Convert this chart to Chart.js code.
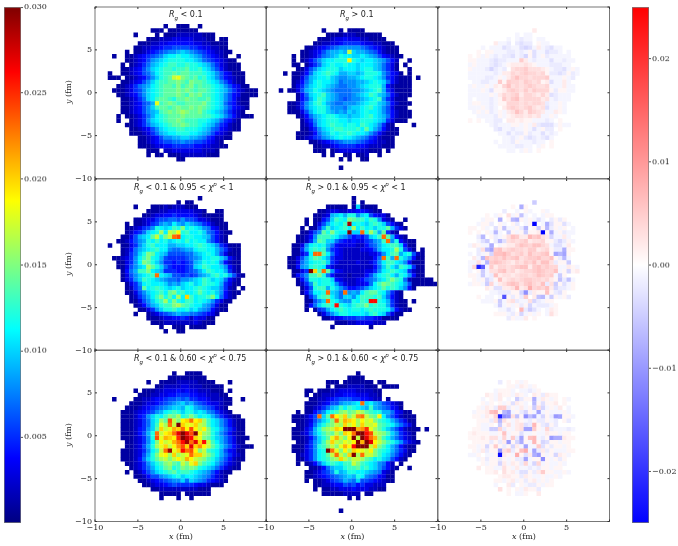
<!DOCTYPE html>
<html>
<head>
<meta charset="utf-8">
<script src="https://cdn.jsdelivr.net/npm/chart.js@4"></script>
<style>
  body { margin: 0; background: #fff; width: 678px; height: 546px; overflow: hidden; position: relative; }
  canvas { position: absolute; filter: blur(0.3px); }
  .txt { position: absolute; font: 8px "DejaVu Sans", sans-serif; color: #222; white-space: nowrap; z-index: 5; line-height: 10px; }
  .txt sub, .txt sup { font-size: 5.5px; line-height: 0; }
  .lab { font-family: "DejaVu Serif", serif; }
</style>
</head>
<body>
<script>
// rows run top to bottom (y = 10 to -10), 40 columns of 0.5 fm, '.' = empty, spaces only group columns by ten
// main panels: base 36 digit in units of 0.001
const rowsLowAll = [
'','','','',
'.......... ......1..1 11..1..... ..........',
'.......... ...111.111 1111...... ..........',
'.........1 ....1.1112 22222111.. ..........',
'.......... ..11122233 33322211.1 1.........',
'.......... 1112233444 4443322111 1.........',
'.........1 1223345566 6655433221 1.........',
'.......1.1 1234567889 a987654322 11........',
'....1..112 345678abbc bba9865432 1..1......',
'.......112 34689abccc cbba976543 211.......',
'......1.12 3579abcddc cdccba9753 2111......',
'......1123 468abcddcd deccdba864 2111......',
'...1..1123 4679bcdded eedddcba86 43111.....',
'...111.112 3468acdehi fedecdba86 43211.....',
'......1123 468acddeef edfeedcba8 64211.....',
'.....11235 789bcdeedf defdeddcba 864311....',
'....111235 68abcdeeef efedeedcba 97532111..',
'.....11234 68abcdeeef edfefddcba 86431111..',
'......1123 57abdeedce efeeddecba 864211....',
'......1123 4679idefed deeeefdcba 754211....',
'......1123 468adeedef eefefedcba 864321....',
'......1123 4689adefef gfeefdcba9 75321.....',
'.....1.112 3579bcdeee feeeeddcba 8642111...',
'.....1..12 358abcdeef edddccba97 5421......',
'.......112 3579abcdee feddcba975 4211......',
'........11 23468abccd dcccba9764 3211......',
'........11 123579abbc ccbba98643 21........',
'.......... 1123468899 aa99875422 11........',
'.......... 1123456677 8776654321 ..........',
'.......... 1112334455 5554433221 1.........',
'.......... ..111.2233 333332221. ..........',
'.......... ..1.11.111 222222111. ..........',
'.......... .........1 1......... ..........'
];
const rowsHighAll = [
'','','','','',
'.......... ...1...1.1 111....... ..........',
'.......... ....111122 2111111... ..........',
'.......... ..11123343 33221111.. ..........',
'.......... .112233455 5543322111 ..........',
'.........1 1234567888 8876543211 1.........',
'........11 2346899a9h a998764211 1.........',
'......1.11 235789acbb aaba986432 11........',
'......1.12 468abbcccj cbabba9864 2..1......',
'......11.1 357abcbbcb babbba9753 1.1.......',
'.......113 68abcccabb babcca9753 1..1......',
'....1.1124 7abcdcb99a a9acccb864 31.1......',
'......1136 9abbca9889 9abccba854 2111.1....',
'......1247 9bcbba9788 899abcba74 2111......',
'......1358 abcba98778 89abccc942 1111......',
'...1.11369 acba987777 889abcd953 1111......',
'.......147 abcda98777 89abdca974 2111......',
'.......146 9bdca98767 889abcd853 111.......',
'.....11258 acdb987788 89abcca974 2111......',
'.....11258 abcca88879 aabcdba863 111.......',
'.....11136 9bcca9898a 9abcbba864 2111......',
'.......124 79abccbaa9 aabcdba974 2111......',
'........13 58abcccbba bbcccba953 111.......',
'........12 47abcdccbc cbdcba8521 ....1.....',
'........11 358abcddcc cdbeb97421 1.........',
'.......111 2479acbccd cbba864211 1.........',
'.......112 35689abcbb a987542111 ..........',
'.......... 1123456788 8765432211 ..........',
'.......... .112234555 5443222111 ..........',
'.......... .111.12333 3322111.1. ..........',
'.......... ...1.1..11 .112..1... ..........',
'.......... .......1.1 ..11...... ..........',
'',
'.......... .......1'
];
const rowsLowHigh = [
'','','','',
'.......... .......... ....1..... ..........',
'.......... .........1 .11....... ..........',
'.........1 ...1112122 2111...... ..........',
'.......... ..11122333 333221..11 ..........',
'.......... .112334454 4443211111 ..........',
'.........1 1233566776 8665332111 ..........',
'.......1.1 12356898b9 8a98754211 1.........',
'.......112 3568cbabdc fbcba87431 1.........',
'.......124 57abcgbhgj cdbbca7642 11........',
'......1136 9abehcfhno bccbba9642 1.........',
'.....11246 89cbdbcabc bdbcbb8642 1.........',
'...1..1135 8acdbbb99a abbcdcba85 3111......',
'......1247 9abcdbb877 899bccbb97 5211......',
'......1257 acfeba9666 6779abcb96 3111......',
'....112358 bdfcb96555 56789bbcca 8421......',
'.....11358 bfeca85545 4569acbcb8 4211......',
'.....11368 abgeca7544 456abdcbba 8421......',
'......1479 ddfba95554 45679bdcbb 9521......',
'......1368 abcdnba966 565689acdb c9621.....',
'......1358 adcba98776 889abdcaba 7421......',
'.......135 8bcbbba898 abcabdccb9 5311......',
'.......125 7ebcdcbabc abbcdcbaa8 521.1.....',
'.......113 68abcdbefc dbbcecbca8 4211......',
'........12 579bdfcebg bkdbccdfb7 421.......',
'........11 368acdgcfc bddbcba853 11........',
'.........1 2479acddfg edcbb98631 1.........',
'.......... 11358accdb bcab987421 1.........',
'.........1 ..12356789 887765431. ..........',
'.......... ..11123344 54243311.. ..........',
'.......... ...1112222 22232111.. ..........',
'.......... .....1..11 1.1111.... ..........',
'.......... ......1..1 1......... ..........'
];
const rowsHighLow = [
'','','','',
'.......... .......... 1......... ..........',
'.......... .......... 1.1....... ..........',
'.......... ....11111. 1a1111.... ..........',
'.......... ..11233223 3443211... ..........',
'.......... .11239ab9c c8ab64331. ..........',
'.........1 .1146adcbf eddbdc8321 ..1.......',
'.........1 .1369bcbdt bcbacdca64 21........',
'........1. 1159dabcdb gbdbcacce9 531.......',
'........11 368ecfcbbu aancgd9e52 1.........',
'.......112 48dddcb986 4546abdne9 421.......',
'.......112 59edaa7543 4335689dn8 c4211.....',
'......1138 bcbc974333 3224679bcd da411.....',
'......1159 cdcd854322 2233469bbc gc631.1...',
'......1135 bnneb74322 22223358bd e9bc621...',
'.....11369 cedb953322 2222247nd9 nca8411...',
'.....11379 bccda53222 2322358bdd ba84111...',
'.....11489 cdcb532222 2222247adb 9dca511...',
'......1135 ukdne84322 2223358bcd cba5211...',
'......1468 ddfc742221 222469bcdb 9cb8411...',
'.......147 ccbcca4322 234678abdf dc7211111.',
'.......125 8dbccb8532 23347bdfed cb96111111',
'........13 6cdd9ca864 4568abcecd ca841.....',
'........14 7bbcna97n8 98bdeecb85 21........',
'.........1 58cdeb97aa 8bdddcda74 21........',
'.........1 168ancb988 cbdcqqcb95 211.1.....',
'.........1 47acdcqcba cddfcdcc95 211.......',
'.........1 .1569bcdcb ccbcdcccb8 4211......',
'.......... ..1368accb bbbacdba63 11........',
'.......... ...1133455 5665543111 1.........',
'.......... ......1112 23333222.. ..........',
'.......... .....1.... ....1..... ..........'
];
const rowsLowCut = [
'','','','','',
'.......... ........1. .1111..... ..........',
'.......... .......111 111111.... ..........',
'.......... ..1..11112 22221111.. .1........',
'.......... ....112222 3322211111 ..........',
'.........1 .111223334 3433222111 .1........',
'.......... 1112233445 5544332221 1.........',
'....1....1 1223445667 6755443222 11..1.....',
'........11 1233456789 a897654332 11........',
'.......111 23456789aa 9cb9876532 1.........',
'......1112 345689bcdc accaba8753 21........',
'......1112 458acbdfeg cdfdbcb975 3211......',
'......1112 357acgeohf jknjkgdba8 64211.....',
'......1112 357adignhu kiikhgdba8 64211.....',
'......1112 458aekhilk njojhjfcb9 75311.....',
'......1112 469cnhjknr uroujgfca8 64211.....',
'......1112 358coilkjp usqkifeca9 753111....',
'.......112 358bfjhiln qtnrkqhdb9 75311.....',
'.......112 369cgikhjm okrkmjheca 8642111...',
'......1112 358bdhntik qnojfhdcb9 64311.....',
'......1112 369cfijgkg hinkkhfdb9 75321.....',
'......1112 47aceghfhj hljhgfdca8 64211.....',
'.......112 358acdfged hfikfdcb97 5321......',
'........12 3579bcefcd fefecba975 3211......',
'.......1.1 2468abcdec ddcba98642 11........',
'.........1 1246689abc abba987532 1.........',
'.......... 1123456788 a7a9875432 1.........',
'.......... .112334565 5554332111 ..........',
'.......... ...1122222 2222111... ..........',
'.......... .....11111 .111111... ..........',
'.......... .....1...1 ..1....... ..........'
];
const rowsHighCut = [
'','','','','',
'.......... .......... .1........ ..........',
'.......... .........1 111....... ..........',
'.......... ....111.11 11111.11.. ..........',
'.......... ....1.1112 222111.111 1.........',
'.........1 1.11122333 3222211... ..........',
'.........1 .112223344 4333221... ..........',
'.......... 1122345666 5544322.1. ..........',
'.........1 1123466899 abnab98653 21........',
'.........1 123579adbd cba9d98764 31........',
'.......1.1 1468bcdfge fhgedcc997 4311......',
'......1112 46naenjhkf hmnhfejb86 42111.....',
'......1112 368acfnhlk jgjhifdcb9 75311.....',
'.......112 47acefhgkh jgkhhiedcb 97531.....',
'......1113 59cfghkjuu ulmpigeca8 642111.1..',
'......1123 69bdfehfkj nuuqohgfda 85321.....',
'......1112 47aceilhfj uhurnlgdb9 75321.....',
'.......112 58adgkhgih julurjhfdc a85321....',
'......1113 58cdfhfilj quuuhkfdb9 74211.....',
'......1113 58bcunifjg kjihjfdcb9 75311.....',
'.......123 58bcehnhfk ugnhhfdba8 6421......',
'.......113 58bcdfgkhf hhgedbca96 421.......',
'.......1.1 247acdcbdd hfdcba8742 .1........',
'.......... 112479aacd decdba8642 1..1......',
'.........1 123568c9ac cbba987321 ..........',
'.........1 123456789a 9cb8764311 ..........',
'.........1 .112356798 7a66543211 ..........',
'.......... .112234465 64533222.. ..........',
'.......... .1.1122333 43332211.. ..........',
'.......... ...1111122 22.11..... ..........',
'.......... .........1 .1........ ..........',
'','',
'.......... .......1'
];
// difference panels: capital = +0.001 per letter step, lower case = -0.001 per letter step
const rowsDiffAll = [
'','','','','',
'......................B',
'..................a.aa',
'................a.abaa.aa',
'.............Baab.bcbb.Aaa',
'..........a.aaacbaacdcaBabcaa',
'.........A.AAaaabbabaAcaacbba.a',
'.......A.AaAababbcabdAcaAbaaaaa',
'.......AAaaabcbbaaaEBabaaacaabaa',
'.......aAaaabcbaABBBCBAaaabbbaa.',
'.......Aaaabdbab.CDDECCCBAabbcaAa',
'.......aaaaaabaBBDCDEDDCDAbbcbAba',
'.......aaaabbaAaBDFDDCDDDEaaaAab',
'........aabbaaEAEDDCEDCDABcaaBa',
'.......aAaaAaBADFCDCDEDCCDaaaBaa',
'.......aaaAacAABDEDCECEDDDAbAAaa',
'.......aaaaaAaBDCDEBDDCBDBcbaaa',
'.......a.aaabaAECEFCDDDDBCabaaa',
'.......aAAaabaAADDDCDCDDCbaaAa',
'.......aaaAaba.BDEDCDECBCcaaAa',
'........aAaAbaAaBCFDBEDCBaaBAa',
'.........aaaabAaABCCBCBCaaAa',
'.......A.A.aabb.BBABAAaaaba.A',
'............abaaaAAaAaBbcccaAaa',
'.............bcaabaaAacaAbb.A',
'..............aacabbAbaacaba',
'...............aabaAbcbabca',
'.............a.aabAaaabaa.A',
'..............aaaabbaa.aA.A',
'................aa.aAa.A'
];
const rowsDiffCut = [
'','','','','',
'......................e',
'.................A.hA',
'...............b..a.Aa..Aa',
'...........A.aA.CaAfa.a.aAA',
'..........aAA.h.AghAaAaca.bAbA',
'.........aAAb.Aa.Ab.aAy.ahcAAca',
'.......AA.Aa.cAfaaAbg.AeAgbAaA.a',
'.......A.A.Aaga.eAaAeAAByAhaAbaa',
'.........bg.AbaACFEBBGEFCBdaaBa.',
'.........ace.bgcCDCDEBCCDAAbdbAa',
'.......aBAaah.aABBDFEDFFDCaccaB',
'.........bCgiEFCDEDDCEEBCDAbbhAA',
'.......a.baAdFFGECDECFDDEFAigiA',
'........BagFDEDFDEFCDEEFDDFAbga',
'.......aaCagEFEDCBDCEDFCFFCbAAe',
'.......aDvpaEBDDCDEFFBEFDEDDaaBAa',
'.......a.AeaCCEFCDBCDDEFEDDFaAdAB',
'.......AAaeabFBCCBCDDCDFEDEaeA.',
'........AaAdbAFBCDCDEEDDCDBAfbfa',
'.......aAAaeDaBCEFECEFDCFbCeAcaA',
'...........BAccBBCGBCHDEDFBdbbaA',
'............aabbbAAdkbBAAFAbcA.',
'.........A.aa.aqAbAbE.BfgaeAaAb',
'..........aaaAeaBCbaaCdbaAA.',
'.............aeaAaAbAdabbbaA',
'..............aaca.Gbeca.aBA',
'.............AAAabAdaAaA.aCA',
'................bAaaB.A'
];
const rowsDiffCutChi = [
'','','','','','',
'..............................',
'..............b.A.AaA',
'................AAaBAaA',
'.............aAAAa.aabaA',
'...........BAaBAAaBAa.BAbBAA',
'..........a.AaB.a.ebAAhaBAaA.Aa',
'..........AaA.AaAcBAa.gAcAAB.A.',
'.........AaBAbEEbAaBaAeCdaAaB.a',
'........aAABFGAgiaAbdAaiaAaaaAa',
'........AAaBADvkjCfAkfiadAbjiAAa',
'.........AAAbCgCAaBAabAbbAab.Ab',
'.........AaaA.eACaBCcbGAbcAb',
'........AAaaeeDbAaBCiiEAaDbaaaba.',
'.......ABAAAaaAFaAAcaaAaaBAAaAA',
'.......AAABACCaDaEbiAFGabAjhhBAA',
'........AAAAbAbBjAdhAaGAdcAAaAA',
'.......AAaAdAEAbAdBaiaaEcAbAAaA',
'........AaBbAAjCEbAFHaibBbAaaaAA',
'.......aaA.aaAxBAaHAcBhjAaAdBAa',
'.........aAbAAbAaAbbiaAAkAaAbA',
'..........AaAAdBaBAbDadDaAaaAa',
'.........B.AAaaCAaBaababAAaAA',
'...........AAB.CABaccAbBEAAaaAa',
'..............ABBAAbBAaaAaaAa',
'.............AAaABaAbABaAaA',
'.............a..Bb.AabbAaAA',
'..............C.A.AaBAAb',
'................A.aaA..B'
];

const gridTicks = [-10, -5, 0, 5, 10];
const jetTicks = [0.005, 0.010, 0.015, 0.020, 0.025, 0.030];
const bwrTicks = [-0.02, -0.01, 0, 0.01, 0.02];

const panelW = 171.5;
const panelLeft = [94.5, 266, 437.5];
const panelTop = [7, 178.5, 350];
const mLeft = 32, mBottom = 24, mTop = 8, mRight = 12;

function jet(t) {
  t = Math.min(1, Math.max(0, t));
  const f = (a) => Math.round(255 * Math.min(1, Math.max(0, 1.5 - Math.abs(4 * t - a))));
  return `rgb(${f(3)},${f(2)},${f(1)})`;
}
function bwr(t) { // t in -1..1
  const k = Math.round(255 * (1 - Math.min(1, Math.abs(t))));
  return t > 0 ? `rgb(255,${k},${k})` : `rgb(${k},${k},255)`;
}

function toCells(rows, diff) {
  const cells = [];
  rows.forEach((row, j) => {
    [...row.replace(/ /g, '')].forEach((c, i) => {
      if (c === '.') return;
      let v;
      if (diff) {
        const low = c.toLowerCase();
        v = (low.charCodeAt(0) - 96) * 0.001 * (c === low ? -1 : 1);
      } else {
        v = parseInt(c, 36) * 0.001;
      }
      cells.push({ x: -10 + (i + 0.5) * 0.5, y: 10 - (j + 0.5) * 0.5, v: v });
    });
  });
  return cells;
}

// frame on all four sides with ticks pointing inwards, like the old matplotlib look
const framePlugin = {
  id: 'frame',
  afterDraw(chart) {
    const { ctx, chartArea: a, scales } = chart;
    ctx.save();
    ctx.strokeStyle = '#777';
    ctx.lineWidth = 1;
    ctx.strokeRect(a.left, a.top, a.right - a.left, a.bottom - a.top);
    ctx.strokeStyle = '#333';
    ctx.beginPath();
    gridTicks.forEach(v => {
      const px = scales.x.getPixelForValue(v), py = scales.y.getPixelForValue(v);
      ctx.moveTo(px, a.bottom); ctx.lineTo(px, a.bottom - 2);
      ctx.moveTo(px, a.top); ctx.lineTo(px, a.top + 2);
      ctx.moveTo(a.left, py); ctx.lineTo(a.left + 2, py);
      ctx.moveTo(a.right, py); ctx.lineTo(a.right - 2, py);
    });
    ctx.stroke();
    ctx.restore();
  }
};

function addCanvas(left, top, w, h) {
  const c = document.createElement('canvas');
  c.style.left = left + 'px';
  c.style.top = top + 'px';
  c.style.width = w + 'px';
  c.style.height = h + 'px';
  c.width = w; c.height = h;
  document.body.appendChild(c);
  return c;
}

const tickFont = { family: '"DejaVu Serif", serif', size: 8 };
const fmt = v => (v < 0 ? '\u2212' + Math.abs(v) : '' + v);

function drawPanel(col, row, rows, diff) {
  const w = Math.ceil(panelW) + mLeft + mRight, h = Math.ceil(panelW) + mTop + mBottom;
  const left = panelLeft[col] - mLeft, top = panelTop[row] - mTop;
  const canvas = addCanvas(left, top, w, h);
  new Chart(canvas, {
    type: 'scatter',
    data: {
      datasets: [{
        data: toCells(rows, diff),
        pointStyle: 'rect',
        pointRadius: 3.2,
        borderWidth: 0,
        backgroundColor: c => {
          const v = c.raw ? c.raw.v : 0;
          return diff ? bwr(v / 0.025) : jet(v / 0.03);
        }
      }]
    },
    plugins: [framePlugin],
    options: {
      responsive: false,
      animation: false,
      events: [],
      layout: { padding: { top: mTop, right: w - mLeft - panelW } },
      plugins: { legend: { display: false }, tooltip: { enabled: false } },
      scales: {
        x: {
          type: 'linear', min: -10, max: 10,
          afterBuildTicks: s => { s.ticks = gridTicks.map(v => ({ value: v })); },
          afterFit: s => { s.height = h - mTop - panelW; },
          grid: { display: false, drawTicks: false }, border: { display: false },
          ticks: {
            display: row === 2, padding: 2, maxRotation: 0, autoSkip: false,
            color: '#222', font: tickFont,
            callback: v => (v === 10 ? '' : fmt(v))
          }
        },
        y: {
          type: 'linear', min: -10, max: 10,
          afterBuildTicks: s => { s.ticks = gridTicks.map(v => ({ value: v })); },
          afterFit: s => { s.width = mLeft; },
          grid: { display: false, drawTicks: false }, border: { display: false },
          ticks: {
            display: col === 0, padding: 3, autoSkip: false,
            color: '#222', font: tickFont,
            callback: v => (v === 10 ? '' : fmt(v))
          }
        }
      }
    }
  });
}

function drawColorbar(left, top, width, height, min, max, ticks, colorAt, label) {
  const canvas = addCanvas(left, top - 6, width + 34, height + 12);
  new Chart(canvas, {
    type: 'bar',
    data: {
      labels: ['c'],
      datasets: [{
        data: [[min, max]],
        barPercentage: 1,
        categoryPercentage: 1,
        borderWidth: 1,
        borderSkipped: false,
        borderColor: '#777',
        backgroundColor: c => {
          const a = c.chart.chartArea;
          if (!a) return '#000';
          const g = c.chart.ctx.createLinearGradient(0, a.bottom, 0, a.top);
          for (let i = 0; i <= 40; i++) g.addColorStop(i / 40, colorAt(i / 40));
          return g;
        }
      }]
    },
    options: {
      responsive: false,
      animation: false,
      events: [],
      layout: { padding: { top: 6, bottom: 6 } },
      plugins: { legend: { display: false }, tooltip: { enabled: false } },
      scales: {
        x: { display: false },
        y: {
          position: 'right', type: 'linear', min: min, max: max,
          afterBuildTicks: s => { s.ticks = ticks.map(v => ({ value: v })); },
          afterFit: s => { s.width = 34; },
          grid: { drawOnChartArea: false, tickLength: 2, color: '#555' },
          border: { display: false },
          ticks: { padding: 1, autoSkip: false, color: '#222', font: tickFont, callback: label }
        }
      }
    }
  });
}

function addText(html, left, top, cls) {
  const d = document.createElement('div');
  d.className = 'txt ' + (cls || '');
  d.innerHTML = html;
  d.style.left = left + 'px';
  d.style.top = top + 'px';
  document.body.appendChild(d);
  return d;
}

drawPanel(0, 0, rowsLowAll, false);
drawPanel(1, 0, rowsHighAll, false);
drawPanel(2, 0, rowsDiffAll, true);
drawPanel(0, 1, rowsLowHigh, false);
drawPanel(1, 1, rowsHighLow, false);
drawPanel(2, 1, rowsDiffCut, true);
drawPanel(0, 2, rowsLowCut, false);
drawPanel(1, 2, rowsHighCut, false);
drawPanel(2, 2, rowsDiffCutChi, true);

drawColorbar(3.5, 7, 17, 515.5, 0, 0.03, jetTicks, t => jet(t), v => v.toFixed(3));
drawColorbar(631.5, 7, 17, 515.5, -0.025, 0.025, bwrTicks, t => bwr(2 * t - 1),
  v => (v < 0 ? '\u2212' : '') + Math.abs(v).toFixed(2));

const Rg = '<i>R<sub>g</sub></i>';
const chi = '<i>\u03c7<sup>p</sup></i>';
addText(Rg + ' &lt; 0.1', 169, 10);
addText(Rg + ' &gt; 0.1', 340, 10);
addText(Rg + ' &lt; 0.1 &amp; 0.95 &lt; ' + chi + ' &lt; 1', 134, 183);
addText(Rg + ' &gt; 0.1 &amp; 0.95 &lt; ' + chi + ' &lt; 1', 306, 183);
addText(Rg + ' &lt; 0.1 &amp; 0.60 &lt; ' + chi + ' &lt; 0.75', 134, 354);
addText(Rg + ' &gt; 0.1 &amp; 0.60 &lt; ' + chi + ' &lt; 0.75', 306, 354);

[180, 351.5, 523].forEach(cx => addText('<i>x</i> (fm)', cx - 11, 532, 'lab'));
[93, 265, 436].forEach(cy => {
  const d = addText('<i>y</i> (fm)', 69 - 11, cy - 5, 'lab');
  d.style.width = '22px';
  d.style.textAlign = 'center';
  d.style.transform = 'rotate(-90deg)';
});
</script>
</body>
</html>
